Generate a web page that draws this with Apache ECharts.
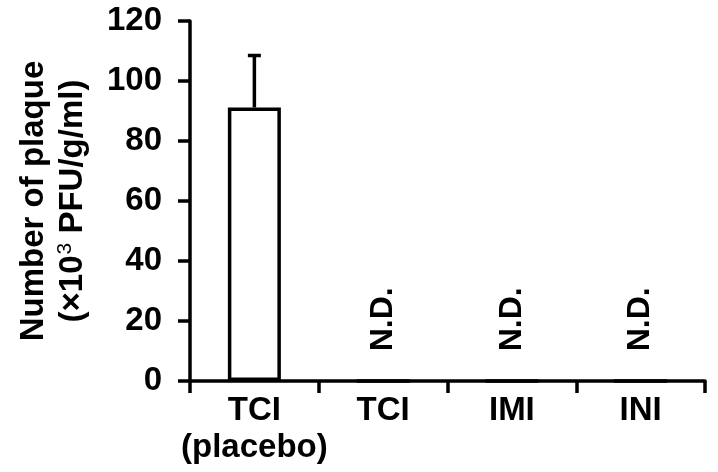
<!DOCTYPE html>
<html>
<head>
<meta charset="utf-8">
<script src="https://cdn.jsdelivr.net/npm/echarts@6/dist/echarts.min.js"></script>
<style>html,body{margin:0;padding:0;background:#fff}#c{width:718px;height:472px}</style>
</head>
<body>
<div id="c"></div>
<script>
var categories = ['TCI\n(placebo)', 'TCI', 'IMI', 'INI'];
var means = [91.2, 0, 0, 0];
var errorPlus = [17.3, 0, 0, 0];
var pointLabels = ['', 'N.D.', 'N.D.', 'N.D.'];
var yTicks = { min: 0, max: 120, interval: 20 };
var yTitleLine1 = 'Number of plaque';
var yTitleLine2 = ['(×10', '3', ' PFU/g/ml)'];

var FONT = '"Liberation Sans", Arial, Helvetica, sans-serif';
var chart = echarts.init(document.getElementById('c'), null, { renderer: 'canvas' });

var barData = means.map(function (v, i) {
  return {
    value: v,
    label: pointLabels[i] ? { show: true, formatter: pointLabels[i] } : { show: false }
  };
});
var errData = means.map(function (v, i) { return [i, v, v + errorPlus[i]]; }).filter(function (d) { return errorPlus[d[0]] > 0; });

var yTitle = '{a|' + yTitleLine1 + '}\n{a|' + yTitleLine2[0] + '}{s|' + yTitleLine2[1] + '}{a|' + yTitleLine2[2] + '}';

chart.setOption({
  animation: false,
  backgroundColor: '#fff',
  grid: { left: 190, right: 13, top: 21, bottom: 91, containLabel: false },
  xAxis: {
    type: 'category',
    data: categories,
    boundaryGap: true,
    axisLine: { lineStyle: { color: '#000', width: 3.5 } },
    axisTick: { show: true, length: 12, inside: false, lineStyle: { color: '#000', width: 3.5 }, alignWithLabel: false },
    axisLabel: { color: '#000', fontSize: 33, fontWeight: 'bold', fontFamily: FONT, lineHeight: 37, margin: 11, interval: 0 },
    splitLine: { show: false }
  },
  yAxis: {
    type: 'value',
    min: yTicks.min, max: yTicks.max, interval: yTicks.interval,
    name: yTitle,
    nameLocation: 'middle',
    nameGap: 98,
    nameRotate: 90,
    nameTextStyle: {
      color: '#000', fontSize: 33, fontWeight: 'bold', fontFamily: FONT, lineHeight: 39, align: 'center',
      rich: {
        a: { color: '#000', fontSize: 33, fontWeight: 'bold', fontFamily: FONT, lineHeight: 39 },
        s: { color: '#000', fontSize: 21, fontWeight: 'normal', fontFamily: FONT, lineHeight: 39, verticalAlign: 'top', padding: [2, 0, 0, 1] }
      }
    },
    axisLine: { show: true, lineStyle: { color: '#000', width: 3.5 } },
    axisTick: { show: true, length: 12, lineStyle: { color: '#000', width: 3.5 } },
    axisLabel: { color: '#000', fontSize: 33, fontWeight: 'bold', fontFamily: FONT, margin: 28 },
    splitLine: { show: false }
  },
  series: [
    {
      type: 'bar',
      data: barData,
      barWidth: 53,
      itemStyle: { color: '#fff', borderColor: '#000', borderWidth: 3.5 },
      label: {
        position: 'top', distance: 28, rotate: 90, align: 'left', verticalAlign: 'middle',
        color: '#000', fontSize: 32, fontWeight: 'bold', fontFamily: FONT
      },
      z: 2
    },
    {
      type: 'custom',
      data: errData,
      z: 3,
      renderItem: function (params, api) {
        var x = api.value(0);
        var lo = api.coord([x, api.value(1)]);
        var hi = api.coord([x, api.value(2)]);
        var half = 6.5;
        return {
          type: 'group',
          children: [
            { type: 'line', shape: { x1: lo[0], y1: lo[1], x2: hi[0], y2: hi[1] }, style: { stroke: '#000', lineWidth: 3.5 } },
            { type: 'line', shape: { x1: hi[0] - half, y1: hi[1], x2: hi[0] + half, y2: hi[1] }, style: { stroke: '#000', lineWidth: 3.5 } }
          ]
        };
      }
    }
  ]
});
</script>
</body>
</html>
